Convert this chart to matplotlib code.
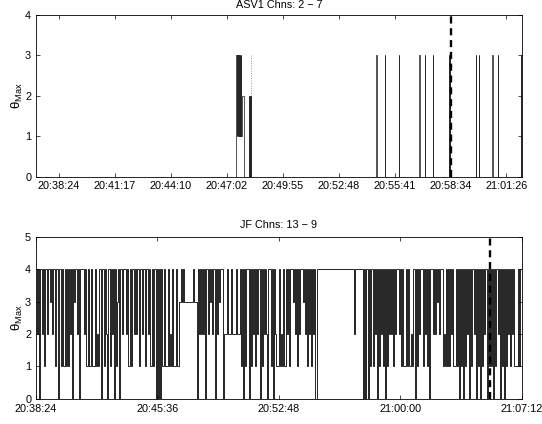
import numpy as np
import matplotlib
matplotlib.use('Agg')
import matplotlib.pyplot as plt
from matplotlib.ticker import FixedLocator, FixedFormatter

plt.rcParams['font.family'] = ['Liberation Sans', 'DejaVu Sans']
plt.rcParams['mathtext.fontset'] = 'custom'
plt.rcParams['mathtext.rm'] = 'Liberation Sans'
plt.rcParams['mathtext.it'] = 'Liberation Sans:italic'

# ---- top panel (ASV1) ----
asv_title = 'ASV1 Chns: 2 \u2212 7'
asv_start = '20:37:14'
asv_end = '21:02:14'
asv_ticks = ['20:38:24', '20:41:17', '20:44:10', '20:47:02', '20:49:55',
             '20:52:48', '20:55:41', '20:58:34', '21:01:26']
asv_yticks = [0, 1, 2, 3, 4]
# seconds after start; single samples at 3
asv_spikes = [1050.8, 1076.4, 1119.3, 1183.5, 1199.2, 1226.4, 1274.5, 1277.5,
              1357.8, 1367.1, 1408.8, 1426.7, 1498.0]
asv_spike_val = 3
# fast bursts: (start, sample step, readings)
asv_burst1 = (617.2, 1.35, '1313131313131')
asv_burst2 = (658.2, 0.74, '2020202020')
# plain level changes: time, value
asv_change_t = [0.0, 634.8, 642.8, 665.6]
asv_change_v = [0, 2, 0, 0]
asv_dot_t = [662.6]
asv_dot_lo = [2]
asv_dot_hi = [3]
asv_mark = '20:58:36'

# ---- bottom panel (JF) ----
jf_title = 'JF Chns: 13 \u2212 9'
jf_start = '20:38:24'
jf_end = '21:07:12'
jf_ticks = ['20:38:24', '20:45:36', '20:52:48', '21:00:00', '21:07:12']
jf_yticks = [0, 1, 2, 3, 4, 5]
jf_step = 1728.0 / 486  # seconds per reading
jf_a = '4240442414' '42443424414' '404414114141' '424043442404' '44424' '1141'
jf_b = '1411141214' '404414204414240413404' '42444241141442424' '414424'
jf_c = '41442411414' '4040404' '11411141214111411' '334343333' '3333343330'
jf_d = '4242' '4240442434244042434440' '22242224222242224' '14041444041'
jf_e = '42414' '2440414242044414042' '1114121411' '42414443424142444342'
jf_f = '41424142400' '4444444444444444444444444444444444444' '2' '44444'
jf_g = '444' '040440414414240414241404142' '424142444241411141411214'
jf_h = '40414244414241404442' '4243424441214141424111414' '041404142'
jf_i = '4041442404140414244041' '41404144240414041424142411114144'
jf_mark = '21:05:17'


def secs(s):
    h, m, x = s.split(':')
    return int(h) * 3600 + int(m) * 60 + float(x)


def style_axes(ax, lo, hi, ticks, yticks, title, tpad):
    ax.set_xlim(secs(lo), secs(hi))
    ax.set_ylim(yticks[0], yticks[-1])
    ax.xaxis.set_major_locator(FixedLocator([secs(t) for t in ticks]))
    ax.xaxis.set_major_formatter(FixedFormatter(ticks))
    ax.set_yticks(yticks)
    ax.tick_params(direction='in', top=True, right=True, length=3, width=0.5,
                   labelsize=7.8, pad=3.5, colors='k')
    for s in ax.spines.values():
        s.set_linewidth(0.6)
        s.set_color('k')
    ax.set_title(title, fontsize=7.8, pad=tpad)
    ax.set_ylabel('\u03b8$_{\\mathrm{Max}}$', fontsize=9.5, labelpad=0)


fig = plt.figure(figsize=(5.42, 4.24), dpi=100)

# top
ax1 = fig.add_axes([0.0664, 0.5837, 0.8967, 0.382])
t0 = secs(asv_start)
pts = list(zip(asv_change_t, asv_change_v))
for start, step, txt in (asv_burst1, asv_burst2):
    for i, c in enumerate(txt):
        pts.append((start + i * step, int(c)))
for t in asv_spikes:
    pts.append((t, asv_spike_val))
    pts.append((t + 0.3, 0))
pts.sort(key=lambda p: p[0])
tt = np.array([p[0] for p in pts]) + t0
vv = np.array([p[1] for p in pts])
edges = np.append(tt, secs(asv_end))
ax1.stairs(vv, edges, baseline=None, color='0.15', linewidth=0.55)
ax1.vlines(np.array(asv_dot_t) + t0, asv_dot_lo, asv_dot_hi, colors='0.45',
           linestyles=(0, (1, 2)), linewidth=0.6)
ax1.axvline(secs(asv_mark), color='k', linewidth=1.7, linestyle=(0, (3, 2)))
style_axes(ax1, asv_start, asv_end, asv_ticks, asv_yticks, asv_title, 4.5)

# bottom
ax2 = fig.add_axes([0.0664, 0.0597, 0.8967, 0.382])
jf_vals = np.array([int(c) for c in jf_a + jf_b + jf_c + jf_d + jf_e + jf_f + jf_g + jf_h + jf_i])
jf_edges = secs(jf_start) + jf_step * np.arange(len(jf_vals) + 1)
ax2.stairs(jf_vals, jf_edges, baseline=None, color='k', linewidth=0.6)
ax2.axvline(secs(jf_mark), color='k', linewidth=1.7, linestyle=(0, (3, 2)))
style_axes(ax2, jf_start, jf_end, jf_ticks, jf_yticks, jf_title, 6.5)

fig.savefig('out.png', dpi=100)
